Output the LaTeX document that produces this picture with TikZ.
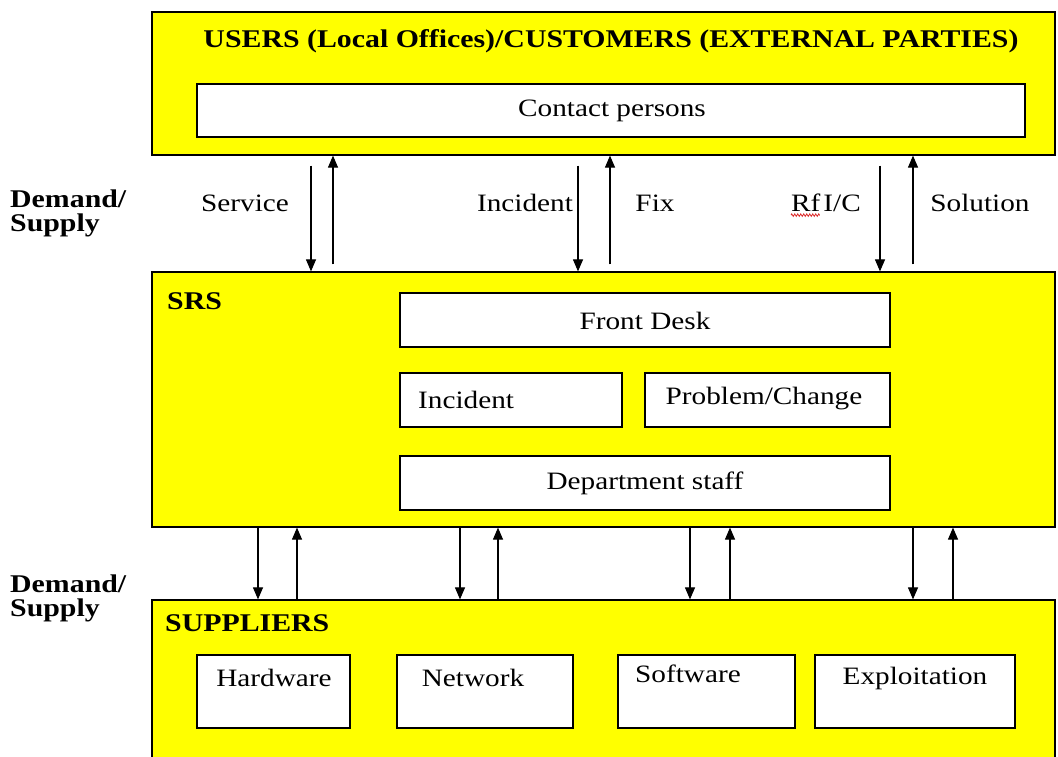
\documentclass[tikz,border=0pt]{standalone}
\usepackage{fontspec}
\setmainfont{Liberation Serif}[FakeStretch=1.17]
\usepackage{tikz}
\usetikzlibrary{arrows.meta, positioning, decorations.pathmorphing}
\definecolor{boxyellow}{RGB}{255,255,0}
\definecolor{spellred}{RGB}{220,40,40}

\tikzset{
    bigbox/.style={draw=black, line width=1.2pt, fill=boxyellow, inner sep=0pt},
    smallbox/.style={draw=black, line width=1.2pt, fill=white, inner sep=0pt},
    flow/.style={line width=1.1pt, -{Triangle[width=10pt,length=12pt]}},
    txt/.style={font=\fontsize{25}{27}\selectfont, inner sep=0pt},
    bold/.style={font=\fontsize{25.5}{24}\selectfont\bfseries, inner sep=0pt}
}

\begin{document}
\begin{tikzpicture}[x=1pt, y=-1pt]
    \useasboundingbox (0,0) rectangle (1058,757);

    % Users
    \node[bigbox, minimum width=903pt, minimum height=143pt] (users) at (603.5,83.5) {};
    \node[bold] (userstitle) at (611,41) {USERS (Local Offices)/CUSTOMERS (EXTERNAL PARTIES)};
    \node[smallbox, minimum width=828pt, minimum height=53pt] (contact) at (611,110.5) {};
    \node[txt] (contacttxt) at (612,111) {Contact persons};

    % SRS
    \node[bigbox, minimum width=903pt, minimum height=255pt] (srs) at (603.5,399.5) {};
    \node[bold, anchor=west] (srstitle) at (167,301) {SRS};
    \node[smallbox, minimum width=490pt, minimum height=54pt] (frontdesk) at (645,320) {};
    \node[txt] (frontdesktxt) at (645,321) {Front Desk};
    \node[smallbox, minimum width=222pt, minimum height=54pt] (incident) at (511,400) {};
    \node[txt, anchor=west] (incidenttxt) at (418,400) {Incident};
    \node[smallbox, minimum width=245pt, minimum height=54pt] (problem) at (767.5,400) {};
    \node[txt] (problemtxt) at (764,399) {Problem/Change};
    \node[smallbox, minimum width=490pt, minimum height=54pt] (dept) at (645,483) {};
    \node[txt] (depttxt) at (645,483) {Department staff};

    % Suppliers
    \node[bigbox, minimum width=903pt, minimum height=180pt] (suppliers) at (603.5,690) {};
    \node[bold, anchor=west] (supptitle) at (165,623) {SUPPLIERS};
    \node[smallbox, minimum width=153pt, minimum height=73pt] (hardware) at (273.5,691.5) {};
    \node[txt] (hardwaretxt) at (274,678) {Hardware};
    \node[smallbox, minimum width=176pt, minimum height=73pt] (network) at (485,691.5) {};
    \node[txt] (networktxt) at (473,678) {Network};
    \node[smallbox, minimum width=177pt, minimum height=73pt] (software) at (706.5,691.5) {};
    \node[txt] (softwaretxt) at (688,674) {Software};
    \node[smallbox, minimum width=200pt, minimum height=73pt] (exploit) at (915,691.5) {};
    \node[txt] (exploittxt) at (915,678) {Exploitation};

    % Demand/Supply
    \node[bold, align=left, anchor=west] (ds1) at (10,213) {Demand/\\Supply};
    \node[bold, align=left, anchor=west] (ds2) at (10,598) {Demand/\\Supply};

    % Upper flows
    \foreach \dn/\up in {311/333, 578/610, 880/913} {
        \coordinate (d) at (\dn,0);
        \coordinate (u) at (\up,0);
        \draw[flow] ([yshift=-10pt]users.south -| d) -- (srs.north -| d);
        \draw[flow] ([yshift=7pt]srs.north -| u) -- (users.south -| u);
    }
    \node[txt] (service) at (245,203) {Service};
    \node[txt] (incidentlbl) at (525,203) {Incident};
    \node[txt] (fix) at (655,203) {Fix};
    \node[txt] (rfic) at (826,203) {Rf\kern3pt I/C};
    \draw[spellred, line width=0.8pt, decorate,
          decoration={zigzag, amplitude=1.2pt, segment length=3pt}]
        ([yshift=-3pt]rfic.south west) -- ++(29,0);
    \node[txt] (solution) at (980,203) {Solution};

    % Lower flows
    \foreach \dn/\up in {258/297, 460/498, 690/730, 913/953} {
        \coordinate (d) at (\dn,0);
        \coordinate (u) at (\up,0);
        \draw[flow] (srs.south -| d) -- (suppliers.north -| d);
        \draw[flow] (suppliers.north -| u) -- (srs.south -| u);
    }
\end{tikzpicture}
\end{document}
